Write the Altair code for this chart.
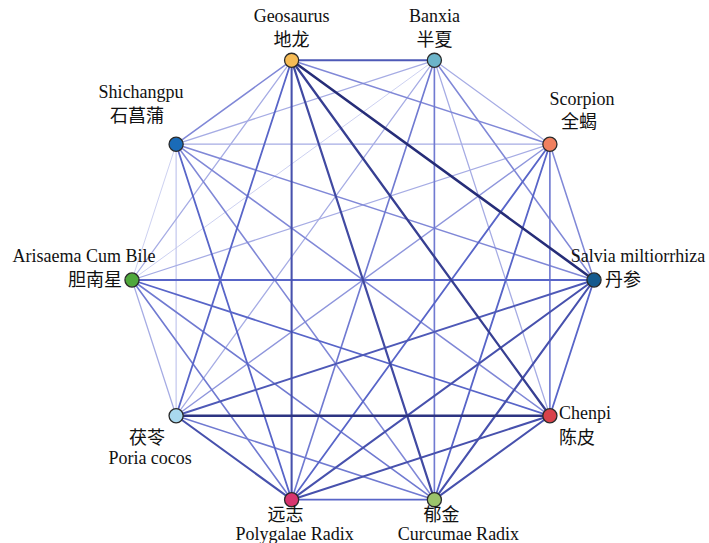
import numpy as np
import pandas as pd
import altair as alt

# Herbs, listed counter-clockwise starting from the rightmost node
herbs_en = ["Salvia miltiorrhiza", "Scorpion", "Banxia", "Geosaurus", "Shichangpu",
            "Arisaema Cum Bile", "Poria cocos", "Polygalae Radix", "Curcumae Radix", "Chenpi"]
herbs_zh = ["丹参", "全蝎", "半夏", "地龙", "石菖蒲", "胆南星", "茯苓", "远志", "郁金", "陈皮"]
node_colors = ["#155a8e", "#f0805f", "#6cb4c9", "#f6bb55", "#1a6bb8",
               "#4fa83c", "#a9d9ef", "#d8356f", "#9cc46b", "#d8424a"]

# Co-occurrence strength between herb pairs (1 = weak ... 4 = strong)
edge_source = [3, 3, 3, 3, 3, 3, 3, 3, 3,
               2, 2, 2, 2, 2, 2, 2, 2,
               4, 4, 4, 4, 4, 4, 4,
               1, 1, 1, 1, 1, 1,
               5, 5, 5, 5, 5,
               0, 0, 0, 0,
               6, 6, 6,
               7, 7,
               8]
edge_target = [2, 1, 0, 9, 8, 7, 6, 5, 4,
               1, 0, 9, 8, 7, 6, 5, 4,
               1, 0, 9, 8, 7, 6, 5,
               0, 9, 8, 7, 6, 5,
               0, 9, 8, 7, 6,
               9, 8, 7, 6,
               9, 8, 7,
               8, 9,
               9]
edge_weight = [2.8, 2.0, 4.0, 3.5, 3.2, 3.0, 2.5, 1.5, 2.0,
               1.5, 2.0, 1.5, 2.2, 2.2, 1.5, 1.0, 1.5,
               1.5, 2.0, 2.0, 2.0, 2.5, 1.2, 1.0,
               2.0, 2.2, 2.5, 2.5, 1.8, 1.5,
               2.5, 2.5, 2.2, 2.2, 1.5,
               2.5, 3.0, 3.0, 2.8,
               3.8, 2.2, 3.0,
               2.5, 3.0,
               3.0]

# Circular layout: one vertex of a regular decagon per herb
n = len(herbs_en)
theta = 2 * np.pi * np.arange(n) / n
node_x = np.cos(theta)
node_y = np.sin(theta)

nodes = pd.DataFrame({"en": herbs_en, "zh": herbs_zh, "color": node_colors,
                      "x": node_x, "y": node_y})

edges = pd.DataFrame({"s": edge_source, "t": edge_target, "w": edge_weight})
edges["x"] = node_x[edges["s"]]
edges["y"] = node_y[edges["s"]]
edges["x2"] = node_x[edges["t"]]
edges["y2"] = node_y[edges["t"]]
edges = edges.sort_values("w").reset_index(drop=True)

# Label placement around each node (pixel offsets and alignment)
label_layout = {
    "Salvia miltiorrhiza": dict(en=(44, -23, "center"), zh=(11, 1, "left")),
    "Scorpion": dict(en=(32, -44, "center"), zh=(29, -21, "center")),
    "Banxia": dict(en=(0, -43, "center"), zh=(0, -19, "center")),
    "Geosaurus": dict(en=(0, -43, "center"), zh=(0, -19, "center")),
    "Shichangpu": dict(en=(-35, -51, "center"), zh=(-39, -27, "center")),
    "Arisaema Cum Bile": dict(en=(-48, -23, "center"), zh=(-10, 1, "right")),
    "Poria cocos": dict(en=(-26, 43, "center"), zh=(-29, 23, "center")),
    "Polygalae Radix": dict(en=(3, 35, "center"), zh=(-6, 16, "center")),
    "Curcumae Radix": dict(en=(24, 35, "center"), zh=(7, 16, "center")),
    "Chenpi": dict(en=(9, -2, "left"), zh=(9, 23, "left")),
}

xs = alt.X("x:Q", scale=alt.Scale(domain=[-1.5714, 1.4978], nice=False, zero=False), axis=None)
ys = alt.Y("y:Q", scale=alt.Scale(domain=[-1.1385, 1.2121], nice=False, zero=False), axis=None)

edge_layer = alt.Chart(edges).mark_rule(strokeCap="round").encode(
    x=xs, y=ys, x2="x2:Q", y2="y2:Q",
    color=alt.Color("w:Q", scale=alt.Scale(domain=[1, 2.5, 4],
                                           range=["#cdd1f1", "#5865c8", "#262d78"]), legend=None),
    strokeWidth=alt.StrokeWidth("w:Q", scale=alt.Scale(domain=[1, 4], range=[1.0, 2.6]), legend=None),
)

node_layer = alt.Chart(nodes).mark_point(
    filled=True, shape="circle", size=200, stroke="#2a2a2a", strokeWidth=1.3, opacity=1
).encode(
    x=xs, y=ys,
    fill=alt.Fill("color:N", scale=None),
)

text_layers = []
for name, lay in label_layout.items():
    sub = nodes[nodes["en"] == name]
    dx, dy, al = lay["en"]
    text_layers.append(
        alt.Chart(sub).mark_text(font="Liberation Serif", fontSize=18, color="#111111",
                                 align=al, baseline="middle", dx=dx, dy=dy)
        .encode(x=xs, y=ys, text="en:N")
    )
    dx, dy, al = lay["zh"]
    text_layers.append(
        alt.Chart(sub).mark_text(font="Noto Sans CJK SC", fontSize=18, color="#111111",
                                 align=al, baseline="middle", dx=dx, dy=dy)
        .encode(x=xs, y=ys, text="zh:N")
    )

chart = alt.layer(edge_layer, node_layer, *text_layers).properties(
    width=709, height=543, padding=0, autosize="none", background="white"
).configure_view(stroke=None)

chart.save("out.html", embed_options={"renderer": "svg", "actions": False})
